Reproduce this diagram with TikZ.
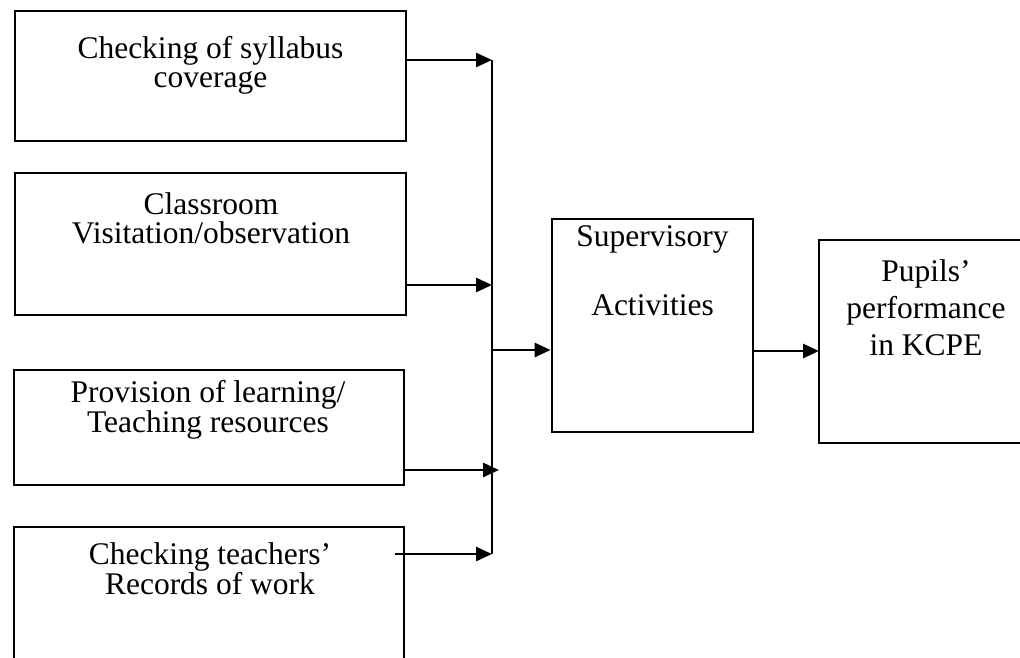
\documentclass[tikz,border=0pt]{standalone}
\usepackage{fontspec}
\setmainfont{Liberation Serif}
\usetikzlibrary{arrows.meta}
\begin{document}
\begin{tikzpicture}[x=1pt,y=-1pt,
  box/.style={draw,line width=2pt,rectangle,inner sep=0pt},
  openbox/.style={draw,line width=2pt},
  lbl/.style={anchor=base,align=center,inner sep=0pt,font=\fontsize{31.5}{28.5}\selectfont},
  conn/.style={line width=2.8pt,-{Triangle[length=16pt,width=14pt]}},
  trunk/.style={line width=2.8pt}]
\useasboundingbox[fill=white] (0,0) rectangle (1020,657);
% boxes
\node[box,minimum width=391pt,minimum height=130pt] (b1) at (210.5,76) {};
\node[box,minimum width=391pt,minimum height=142pt] (b2) at (210.5,244) {};
\node[box,minimum width=390pt,minimum height=115pt] (b3) at (209,427.5) {};
\draw[openbox] (14,662) |- (404,527) -- (404,662);
\node[box,line width=2.8pt,minimum width=201pt,minimum height=213pt] (sup) at (652.5,325.5) {};
\draw[openbox] (1025,240) -| (819,443) -- (1025,443);
% texts (anchor = baseline of last line)
\node[lbl] (t1) at (210.5,87) {Checking of syllabus\\coverage};
\node[lbl] (t2) at (211,243) {Classroom\\Visitation/observation};
\node[lbl] (t3) at (208,432) {Provision of learning/\\Teaching resources};
\node[lbl] (t4) at (210,594) {Checking teachers’\\Records of work};
\node[lbl,font=\fontsize{31.5}{69}\selectfont] (tsup) at (652.5,315) {Supervisory\\Activities};
\node[lbl,font=\fontsize{31.5}{37}\selectfont] (tpup) at (926,355) {Pupils’\\performance\\in KCPE};
% connectors
\coordinate (j1) at (492,60);
\coordinate (j2) at (492,285);
\coordinate (a3) at (499,470);
\coordinate (s4) at (395,554);
\coordinate (j4) at (492,554);
\coordinate (jm) at (492,350);
\coordinate (pl) at (819,351);
\draw[trunk] (j1) -- (j4);
\draw[conn] (b1.east |- j1) -- (j1);
\draw[conn] (b2.east |- j2) -- (j2);
\draw[conn] (b3.east |- a3) -- (a3);
\draw[conn] (s4) -- (j4);
\draw[conn] (jm) -- (sup.west |- jm);
\draw[conn] (sup.east |- pl) -- (pl);
\end{tikzpicture}
\end{document}
